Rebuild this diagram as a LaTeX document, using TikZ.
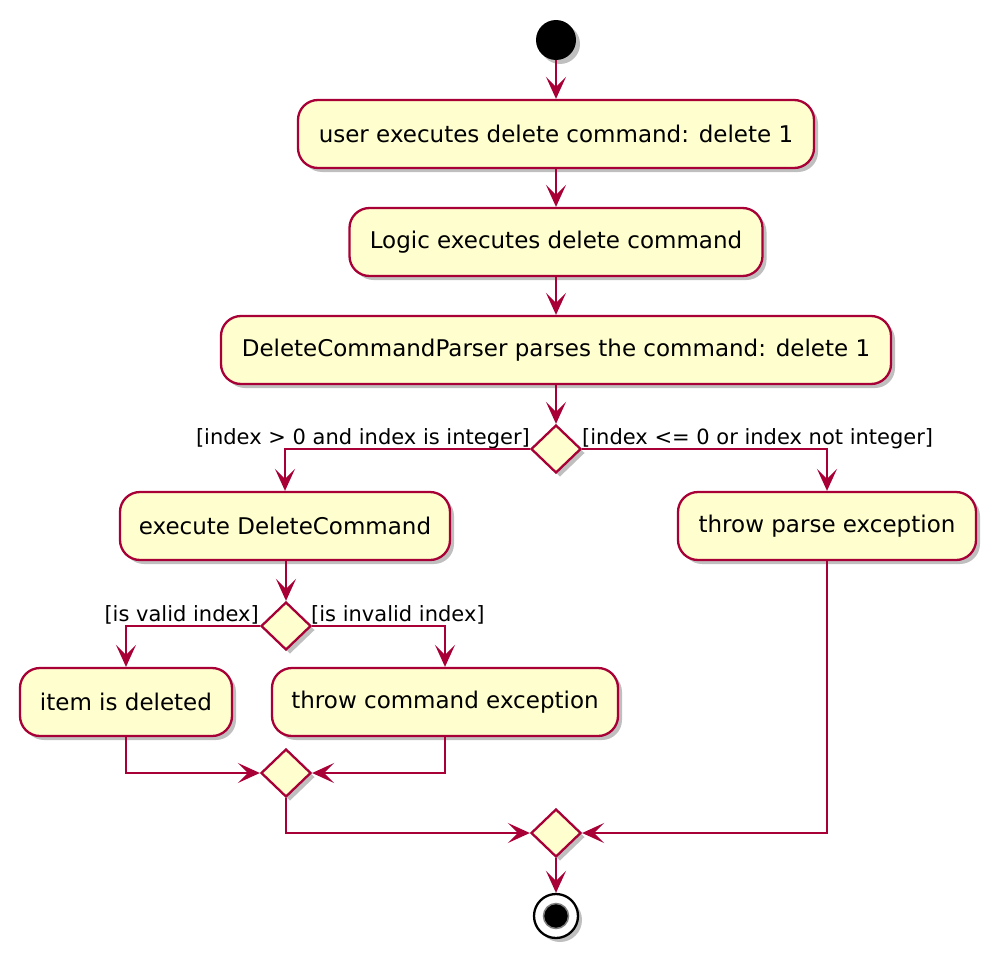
\documentclass[tikz,border=0pt]{standalone}
\usepackage{fontspec}
\setmainfont{DejaVu Sans}
\usetikzlibrary{arrows.meta,shapes.geometric,shadows}
\definecolor{pborder}{HTML}{A80036}
\definecolor{pfill}{HTML}{FEFECE}
\begin{document}
\begin{tikzpicture}[x=1pt,y=-1pt,
  shad/.style={drop shadow={shadow xshift=4pt,shadow yshift=-4pt,opacity=0.25,fill=black}},
  actbox/.style={draw=pborder,fill=pfill,line width=2.3pt,rounded corners=20pt,minimum height=68pt,inner sep=0pt,font=\fontsize{23}{27}\selectfont,shad},
  dia/.style={diamond,draw=pborder,fill=pfill,line width=2.3pt,minimum width=50pt,minimum height=48pt,inner sep=0pt,shad},
  arr/.style={draw=pborder,line width=2.3pt,-{Stealth[length=22pt,width=20pt,inset=10pt]}},
  lbl/.style={font=\fontsize{21}{25}\selectfont,inner sep=0pt}
]
\useasboundingbox (0,0) rectangle (996,961);
\node[circle,fill=black,minimum size=40pt,inner sep=0pt,shad] (start) at (556,40) {};
\node[actbox,minimum width=516pt] (b1) at (556,134) {user executes delete command: delete 1};
\node[actbox,minimum width=413pt] (b2) at (556,242) {Logic executes delete command};
\node[actbox,minimum width=670pt] (b3) at (556,350) {DeleteCommandParser parses the command: delete 1};
\node[dia] (d1) at (556,449) {};
\node[actbox,minimum width=330pt] (b4) at (285,526) {execute DeleteCommand};
\node[actbox,minimum width=298pt] (b5) at (827,526) {throw parse exception};
\node[dia] (d2) at (286,626) {};
\node[actbox,minimum width=212pt] (b6) at (126,702) {item is deleted};
\node[actbox,minimum width=346pt] (b7) at (445,702) {throw command exception};
\node[dia] (d3) at (286,773) {};
\node[dia] (d4) at (556,833) {};
\node[circle,draw=black,line width=2.3pt,fill=white,minimum size=44pt,inner sep=0pt,shad] (stop) at (556,916) {};
\node[circle,fill=black,draw=gray,line width=1.5pt,minimum size=25pt,inner sep=0pt] (stopin) at (556,916) {};

\node[lbl,anchor=base east] (l1) at (530,444) {[index > 0 and index is integer]};
\node[lbl,anchor=base west] (l2) at (582,444) {[index <= 0 or index not integer]};
\node[lbl,anchor=base east] (l3) at (259,621) {[is valid index]};
\node[lbl,anchor=base west] (l4) at (311,621) {[is invalid index]};

\draw[arr] (start) -- (b1);
\draw[arr] (b1) -- (b2);
\draw[arr] (b2) -- (b3);
\draw[arr] (b3) -- (d1);
\draw[arr] (d1.west) -| (b4.north);
\draw[arr] (d1.east) -| (b5.north);
\draw[arr] (b4.south -| d2) -- (d2);
\draw[arr] (d2.west) -| (b6.north);
\draw[arr] (d2.east) -| (b7.north);
\draw[arr] (b6.south) |- (d3.west);
\draw[arr] (b7.south) |- (d3.east);
\draw[arr] (d3.south) |- (d4.west);
\draw[arr] (b5.south) |- (d4.east);
\draw[arr] (d4) -- (stop);
\end{tikzpicture}
\end{document}
